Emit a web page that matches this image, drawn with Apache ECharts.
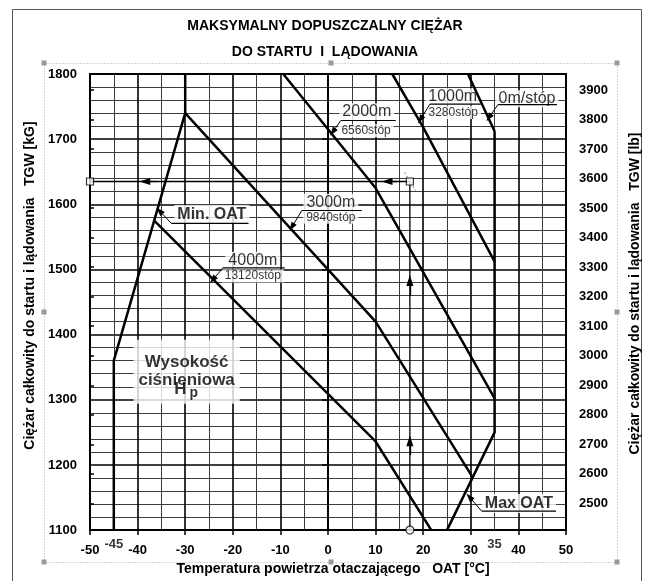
<!DOCTYPE html>
<html><head><meta charset="utf-8">
<script src="https://cdn.jsdelivr.net/npm/echarts@6/dist/echarts.min.js"></script>
<style>html,body{margin:0;padding:0;background:#fff}#c{width:650px;height:581px}</style>
</head><body><div id="c"></div>
<script>
// ---------- axes ----------
const xTicks = [-50, -40, -30, -20, -10, 0, 10, 20, 30, 40, 50];
const kgTicks = [1100, 1200, 1300, 1400, 1500, 1600, 1700, 1800];
const lbTicks = [2500, 2600, 2700, 2800, 2900, 3000, 3100, 3200, 3300, 3400, 3500, 3600, 3700, 3800, 3900];
const lbRange = [2427, 3954];
const extraXLabels = [-45, 35];

// ---------- limit lines ----------
const minOatT = [-45, -45, -30, -30];
const minOatKg = [1100, 1360, 1740, 1800];
const maxOatT = [25, 35, 35];
const maxOatKg = [1100, 1250, 1712];

// ---------- pressure altitude lines ----------
const alt0T = [29.4, 35];
const alt0Kg = [1800, 1712];
const alt1000T = [13.5, 20, 35];
const alt1000Kg = [1800, 1718, 1512];
const alt2000T = [-9.4, 10, 35];
const alt2000Kg = [1800, 1625, 1302];
const alt3000T = [-30, 10, 30.4];
const alt3000Kg = [1740, 1420, 1181];
const alt4000T = [-36.5, 10, 21.7];
const alt4000Kg = [1575, 1236, 1100];

// ---------- example path ----------
const exampleT = [17.2, 17.2, -50];
const exampleKg = [1100, 1635, 1635];

// ---------- texts ----------
const altNames = ['0m/stóp', '1000m', '2000m', '3000m', '4000m'];
const altFeet = ['', '3280stóp', '6560stóp', '9840stóp', '13120stóp'];

const F = '"Liberation Sans", Arial, Helvetica, sans-serif';
const zip = (a, b) => a.map((v, i) => [v, b[i]]);

// annotation anchors (data units: °C, kg)
const nameAnchors = [[41.8, 1762], [26.2, 1765], [8.15, 1742], [0.6, 1603], [-15.8, 1514]];
const feetAnchors = [null, [26.3, 1741], [8.0, 1713], [0.6, 1580], [-15.8, 1490]];
const underlines = [[35.7, 48.1, 1753], [21.4, 32.1, 1753.7], [2.7, 14.25, 1728.6], [-5.5, 7.1, 1590.5], [-22.1, -9.1, 1502.4], [-32.9, -16.7, 1570.7], [32.3, 47.9, 1129]];
const leaders = [
  [[35.7, 1753], [33.8, 1733]],
  [[21.4, 1753.7], [19.4, 1730]],
  [[2.7, 1728.6], [1.0, 1711]],
  [[-5.5, 1590.5], [-7.6, 1565]],
  [[-22.1, 1502.4], [-24.2, 1484]],
  [[-32.9, 1570.7], [-35.4, 1590]],
  [[32.3, 1129], [29.7, 1151]]
];
const exampleArrows = [
  [[17.2, 1215], [17.2, 1237]],
  [[17.2, 1460], [17.2, 1483]],
  [[14.5, 1635], [12.4, 1635]],
  [[-36, 1635], [-38.5, 1635]]
];

function curve(T, K, w) {
  return { type: 'line', data: zip(T, K), symbol: 'none', z: 5, silent: true,
    lineStyle: { color: '#000', width: w } };
}
function textItem(pos, text, style) {
  return { value: pos, label: Object.assign({ show: true, position: 'inside', formatter: text,
    color: '#000', fontFamily: F }, style) };
}

const labelItems = [];
altNames.forEach((n, i) => {
  labelItems.push(textItem(nameAnchors[i], n, { fontSize: 16, backgroundColor: '#fff', padding: [1, 3, 0, 3] }));
  if (altFeet[i]) labelItems.push(textItem(feetAnchors[i], altFeet[i], { fontSize: 12, backgroundColor: '#fff', padding: [0, 3, 1, 3] }));
});
labelItems.push(textItem([-24.4, 1584.4], 'Min. OAT', { fontSize: 16, fontWeight: 'bold', backgroundColor: '#fff', padding: [1, 3, 2, 3] }));
labelItems.push(textItem([40.1, 1141], 'Max OAT', { fontSize: 16, fontWeight: 'bold', backgroundColor: '#fff', padding: [1, 3, 2, 3] }));
labelItems.push(textItem([-29.7, 1343], 'Wysokość\nciśnieniowa', { fontSize: 17, fontWeight: 'bold', lineHeight: 18, backgroundColor: '#fff', padding: [4, 5, 24, 5] }));
labelItems.push(textItem([-31, 1315.6], 'H', { fontSize: 17, fontWeight: 'bold' }));
labelItems.push(textItem([-28.2, 1309.5], 'p', { fontSize: 14, fontWeight: 'bold' }));
extraXLabels.forEach(v => labelItems.push(textItem([v, 1100], String(v), { fontSize: 13, fontWeight: 'bold', offset: [0, 14] })));

const lineStyleThin = { color: '#000', width: 1, type: 'solid' };
const plain = v => String(v);
const tickFont = { fontFamily: F, fontWeight: 'bold', fontSize: 13, color: '#000' };
const nameFont = { fontFamily: F, fontWeight: 'bold', fontSize: 14, color: '#000' };

const option = {
  animation: false,
  backgroundColor: '#fff',
  title: {
    text: 'MAKSYMALNY DOPUSZCZALNY CIĘŻAR\nDO STARTU  I  LĄDOWANIA',
    left: 'center', top: 8,
    textStyle: { fontFamily: F, fontWeight: 'bold', fontSize: 14, lineHeight: 26, color: '#000' }
  },
  grid: [
    { left: 90, top: 74, width: 476, height: 461, show: true, borderColor: '#000', borderWidth: 2, backgroundColor: 'transparent' },
    { left: 90, top: 74, width: 482, height: 451, show: false }
  ],
  xAxis: [
    { gridIndex: 0, type: 'value', min: xTicks[0], max: xTicks[xTicks.length - 1], interval: 10,
      name: 'Temperatura powietrza otaczającego   OAT [°C]', nameLocation: 'middle', nameGap: 31,
      nameTextStyle: Object.assign({ padding: [0, 0, 0, 10] }, nameFont),
      axisLine: { show: true, lineStyle: { color: '#000', width: 2 } },
      axisTick: { show: true, length: 5, lineStyle: { color: '#000', width: 1.5 } },
      axisLabel: Object.assign({ margin: 14, formatter: plain }, tickFont),
      splitLine: { show: true, lineStyle: { color: '#000', width: 1.6 } },
      minorTick: { show: false, splitNumber: 2 },
      minorSplitLine: { show: true, lineStyle: { color: '#3c3c3c', width: 1 } } },
    { gridIndex: 1, type: 'value', min: 0, max: 1, show: false }
  ],
  yAxis: [
    { gridIndex: 0, type: 'value', min: kgTicks[0], max: kgTicks[kgTicks.length - 1], interval: 100,
      name: 'Ciężar całkowity do startu i lądowania   TGW [kG]', nameLocation: 'middle', nameGap: 51, nameRotate: 90,
      nameTextStyle: Object.assign({ padding: [0, 0, 0, 33] }, nameFont),
      axisLine: { show: true, lineStyle: { color: '#000', width: 2 } },
      axisTick: { show: true, length: 6, lineStyle: { color: '#000', width: 1.5 } },
      axisLabel: Object.assign({ margin: 13, formatter: plain }, tickFont),
      splitLine: { show: true, lineStyle: { color: '#000', width: 1.6 } },
      minorTick: { show: false, splitNumber: 5 },
      minorSplitLine: { show: true, lineStyle: { color: '#3c3c3c', width: 1 } } },
    { gridIndex: 1, type: 'value', position: 'right', min: lbRange[0], max: lbRange[1],
      name: 'Ciężar całkowity do startu i lądowania   TGW [lb]', nameLocation: 'middle', nameGap: 58, nameRotate: 90,
      nameTextStyle: Object.assign({ padding: [0, 0, 0, 12] }, nameFont),
      axisLine: { show: true, lineStyle: { color: '#000', width: 2 } },
      axisTick: { show: true, length: 4, customValues: lbTicks, lineStyle: { color: '#000', width: 1.5 } },
      axisLabel: Object.assign({ margin: 9, customValues: lbTicks, formatter: plain }, tickFont),
      splitLine: { show: false } }
  ],
  series: [
    curve(minOatT, minOatKg, 2.5),
    curve(maxOatT, maxOatKg, 2.5),
    curve(alt0T, alt0Kg, 2.5),
    curve(alt1000T, alt1000Kg, 2.5),
    curve(alt2000T, alt2000Kg, 2.5),
    curve(alt3000T, alt3000Kg, 2.5),
    curve(alt4000T, alt4000Kg, 2.5),
    { type: 'scatter', z: 3, silent: true, symbolSize: 1, itemStyle: { color: 'rgba(0,0,0,0)' }, data: labelItems },
    { type: 'line', z: 6, silent: true, data: zip(exampleT, exampleKg), symbol: 'none',
      lineStyle: { color: '#000', width: 1.3 },
      markLine: { silent: true, symbol: ['none', 'triangle'], symbolSize: [7, 11], label: { show: false },
        lineStyle: { color: '#000', width: 1.3, type: 'solid' },
        data: exampleArrows.map(a => [{ coord: a[0] }, { coord: a[1] }]) } },
    { type: 'line', z: 6, silent: true, data: [[16.1, 1649], [18.4, 1621]], symbol: 'none',
      lineStyle: { color: '#777', width: 1, type: [2, 2] } },
    ...underlines.map(u => ({ type: 'line', z: 6, silent: true, data: [[u[0], u[2]], [u[1], u[2]]], symbol: 'none',
      lineStyle: { color: '#000', width: 1.2 } })),
    { type: 'line', z: 6, silent: true, data: [],
      markLine: { silent: true, symbol: ['none', 'triangle'], symbolSize: [6, 9], label: { show: false },
        lineStyle: lineStyleThin, data: leaders.map(a => [{ coord: a[0] }, { coord: a[1] }]) } },
    { type: 'scatter', z: 7, silent: true, symbol: 'circle', symbolSize: 8,
      itemStyle: { color: '#fff', borderColor: '#000', borderWidth: 1.2 }, data: [[exampleT[0], exampleKg[0]]] },
    { type: 'scatter', z: 7, silent: true, symbol: 'rect', symbolSize: 7,
      itemStyle: { color: '#fff', borderColor: '#000', borderWidth: 1.2 }, data: [[exampleT[1], exampleKg[1]], [exampleT[2], exampleKg[2]]] }
  ],
  graphic: [
    { type: 'polyline', silent: true, shape: { points: [[12.5, 600], [12.5, 9.5], [641.5, 9.5], [641.5, 600]] },
      style: { stroke: '#555', lineWidth: 1, fill: null } },
    { type: 'rect', silent: true, shape: { x: 44.5, y: 63.5, width: 573, height: 499 },
      style: { stroke: '#aaa', lineWidth: 1, lineDash: [1, 2], fill: null } },
    ...[[44, 63], [331, 63], [617, 63], [44, 312], [617, 312], [44, 562], [331, 562], [617, 562]].map(p => ({
      type: 'rect', silent: true, shape: { x: p[0] - 2.5, y: p[1] - 2.5, width: 5, height: 5 }, style: { fill: '#999' } }))
  ]
};
const chart = echarts.init(document.getElementById('c'));
chart.setOption(option);
</script></body></html>
